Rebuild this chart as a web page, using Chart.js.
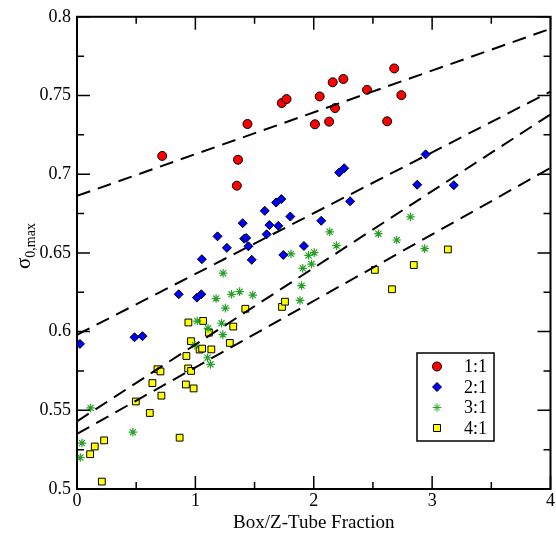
<!DOCTYPE html>
<html>
<head>
<meta charset="utf-8">
<script src="https://cdn.jsdelivr.net/npm/chart.js@4.4.1/dist/chart.umd.min.js"></script>
<style>
  html, body { margin: 0; padding: 0; background: #fff; }
</style>
</head>
<body>
<canvas id="sigmaChart" width="556" height="540"></canvas>
<script>
// box/z-tube fraction (x) vs sigma_0,max (y), one set per ratio
const x11 = [0.72, 1.44, 1.36, 1.35, 1.73, 1.77, 2.05, 2.16, 2.25, 2.45, 2.68, 2.74, 2.18, 2.01, 2.13, 2.62];
const y11 = [0.7116, 0.7319, 0.7092, 0.6927, 0.7452, 0.7477, 0.7494, 0.7584, 0.7605, 0.7536, 0.7672, 0.7502, 0.7420, 0.7317, 0.7334, 0.7336];

const x21 = [1.726, 1.682, 1.586, 1.802, 1.400, 1.625, 1.701, 2.063, 1.602, 1.187, 1.412, 1.429, 1.266, 1.448, 1.055,
             1.476, 1.743, 1.917, 2.307, 2.945, 2.874, 3.183, 2.215, 2.257, 0.859, 1.013, 1.050, 0.025, 0.486, 0.553];
const y21 = [0.6842, 0.6820, 0.6767, 0.6731, 0.6689, 0.6677, 0.6672, 0.6704, 0.6618, 0.6605, 0.6590, 0.6595, 0.6532, 0.6542, 0.6460,
             0.6456, 0.6487, 0.6544, 0.6828, 0.7126, 0.6933, 0.6930, 0.7011, 0.7038, 0.6237, 0.6216, 0.6237, 0.5922, 0.5964, 0.5971];

const x31 = [0.028, 0.042, 0.115, 0.472, 0.996, 1.016, 1.103, 1.128, 1.107, 1.221, 1.232, 1.253, 1.175, 1.305, 1.374,
             1.485, 1.234, 1.808, 1.907, 1.897, 1.884, 1.956, 2.004, 1.981, 2.135, 2.192, 2.546, 2.701, 2.817, 2.937];
const y31 = [0.5200, 0.5292, 0.5515, 0.5361, 0.5914, 0.6067, 0.5834, 0.5792, 0.6021, 0.6053, 0.5981, 0.6149, 0.6210, 0.6237, 0.6254,
             0.6232, 0.6371, 0.6494, 0.6402, 0.6292, 0.6198, 0.6484, 0.6502, 0.6429, 0.6634, 0.6546, 0.6622, 0.6582, 0.6729, 0.6527];

const x41 = [0.210, 0.111, 0.150, 0.229, 0.497, 0.615, 0.637, 0.680, 0.705, 0.713, 0.867, 0.920, 0.985, 0.924, 0.939, 0.964,
             0.941, 1.065, 0.963, 1.036, 1.057, 1.135, 1.114, 1.291, 1.320, 1.422, 1.732, 1.757, 2.516, 2.845, 2.661, 3.133];
const y41 = [0.5047, 0.5221, 0.5270, 0.5309, 0.5556, 0.5483, 0.5673, 0.5761, 0.5747, 0.5593, 0.5326, 0.5664, 0.5639, 0.5845, 0.5766, 0.5750,
             0.6058, 0.6068, 0.5939, 0.5886, 0.5892, 0.5887, 0.5993, 0.5928, 0.6032, 0.6145, 0.6157, 0.6190, 0.6392, 0.6423, 0.6269, 0.6522];

// dashed fit lines, value at x = 0 and x = 4
const fitX = [0, 4];
const fit11 = [0.6862, 0.7924];
const fit21 = [0.598, 0.7525];
const fit31 = [0.543, 0.738];
const fit41 = [0.535, 0.704];

const ratioLabels = ['1:1', '2:1', '3:1', '4:1'];
const xTickLabels = ['0', '1', '2', '3', '4'];
const yTickLabels = ['0.5', '0.55', '0.6', '0.65', '0.7', '0.75', '0.8'];

const serif = '"Liberation Serif", "DejaVu Serif", serif';
const green = 'rgb(40,160,40)';

// plot box edges in canvas pixels
const box = { left: 77, top: 13, right: 552, bottom: 489 };

function pts(xs, ys) {
  return xs.map((x, i) => ({ x: x, y: ys[i] }));
}

function fitSet(ys) {
  return {
    data: pts(fitX, ys),
    showLine: true,
    borderColor: '#000',
    borderWidth: 2,
    borderDash: [14, 8],
    pointRadius: 0,
    fill: false,
    order: 0
  };
}

// frame with inward ticks on all four sides
const frameTicks = {
  id: 'frameTicks',
  afterDraw(chart) {
    const ctx = chart.ctx, a = chart.chartArea;
    const xs = chart.scales.x, ys = chart.scales.y;
    ctx.save();
    ctx.strokeStyle = '#000';
    ctx.lineWidth = 1.5;
    for (let v = 0; v <= 4.001; v += 0.5) {
      const px = xs.getPixelForValue(v);
      const len = Math.abs(v - Math.round(v)) < 1e-6 ? 13 : 7;
      ctx.beginPath();
      ctx.moveTo(px, a.bottom); ctx.lineTo(px, a.bottom - len);
      ctx.moveTo(px, a.top); ctx.lineTo(px, a.top + len);
      ctx.stroke();
    }
    for (let i = 0; i <= 12; i++) {
      const py = ys.getPixelForValue(0.5 + i * 0.025);
      const len = i % 2 === 0 ? 13 : 7;
      ctx.beginPath();
      ctx.moveTo(a.left, py); ctx.lineTo(a.left + len, py);
      ctx.moveTo(a.right, py); ctx.lineTo(a.right - len, py);
      ctx.stroke();
    }
    ctx.lineWidth = 2;
    ctx.strokeRect(a.left, a.top, a.right - a.left, a.bottom - a.top);
    ctx.restore();
  }
};

// axis titles, y title with subscript
const axisTitles = {
  id: 'axisTitles',
  afterDraw(chart) {
    const ctx = chart.ctx, a = chart.chartArea;
    ctx.save();
    ctx.fillStyle = '#000';
    ctx.font = '19px ' + serif;
    ctx.textAlign = 'center';
    ctx.textBaseline = 'middle';
    ctx.fillText('Box/Z-Tube Fraction', (a.left + a.right) / 2, 523);

    ctx.translate(24, 246);
    ctx.rotate(-Math.PI / 2);
    ctx.textAlign = 'left';
    ctx.textBaseline = 'alphabetic';
    ctx.font = '21px ' + serif;
    const w1 = ctx.measureText('σ').width;
    ctx.font = '14px ' + serif;
    const w2 = ctx.measureText('0,max').width;
    const x0 = -(w1 + w2) / 2;
    ctx.font = '21px ' + serif;
    ctx.fillText('σ', x0, 6);
    ctx.font = '14px ' + serif;
    ctx.fillText('0,max', x0 + w1, 11);
    ctx.restore();
  }
};

// boxed legend inside the plot area
const boxLegend = {
  id: 'boxLegend',
  afterDraw(chart) {
    const ctx = chart.ctx;
    const bx = 417, by = 353, bw = 77, bh = 88;
    ctx.save();
    ctx.fillStyle = '#fff';
    ctx.fillRect(bx, by, bw, bh);
    ctx.strokeStyle = '#000';
    ctx.lineWidth = 1.5;
    ctx.strokeRect(bx, by, bw, bh);
    const scatterSets = chart.data.datasets.filter(d => d.label);
    scatterSets.forEach((d, i) => {
      const cy = by + 13.5 + i * 20.5, cx = 437;
      ctx.fillStyle = d.backgroundColor;
      ctx.strokeStyle = d.borderColor;
      ctx.lineWidth = 1;
      ctx.beginPath();
      if (d.pointStyle === 'circle') {
        ctx.arc(cx, cy, 4.5, 0, Math.PI * 2);
        ctx.fill(); ctx.stroke();
      } else if (d.pointStyle === 'rectRot') {
        ctx.moveTo(cx - 4.5, cy); ctx.lineTo(cx, cy - 4.5);
        ctx.lineTo(cx + 4.5, cy); ctx.lineTo(cx, cy + 4.5);
        ctx.closePath();
        ctx.fill(); ctx.stroke();
      } else if (d.pointStyle === 'rect') {
        ctx.rect(cx - 3.5, cy - 3.5, 7, 7);
        ctx.fill(); ctx.stroke();
      } else {
        for (let k = 0; k < 4; k++) {
          const ang = k * Math.PI / 4;
          ctx.moveTo(cx - Math.cos(ang) * 4.3, cy - Math.sin(ang) * 4.3);
          ctx.lineTo(cx + Math.cos(ang) * 4.3, cy + Math.sin(ang) * 4.3);
        }
        ctx.stroke();
      }
      ctx.fillStyle = '#000';
      ctx.font = '18px ' + serif;
      ctx.textAlign = 'right';
      ctx.textBaseline = 'middle';
      ctx.fillText(d.label, 487, cy + 1);
    });
    ctx.restore();
  }
};

const ctx = document.getElementById('sigmaChart');
const sigmaChart = new Chart(ctx, {
  type: 'scatter',
  data: {
    datasets: [
      fitSet(fit11), fitSet(fit21), fitSet(fit31), fitSet(fit41),
      {
        label: ratioLabels[0], data: pts(x11, y11), pointStyle: 'circle', pointRadius: 4.5,
        backgroundColor: '#ff0000', borderColor: '#000', borderWidth: 1, order: 1
      },
      {
        label: ratioLabels[1], data: pts(x21, y21), pointStyle: 'rectRot', pointRadius: 4.5,
        backgroundColor: '#0000ff', borderColor: '#000', borderWidth: 1, order: 1
      },
      {
        label: ratioLabels[2], data: pts(x31, y31), pointStyle: 'star', pointRadius: 4.3,
        backgroundColor: green, borderColor: green, borderWidth: 1.2, order: 1
      },
      {
        label: ratioLabels[3], data: pts(x41, y41), pointStyle: 'rect', pointRadius: 4.8,
        backgroundColor: '#ffff00', borderColor: '#000', borderWidth: 1, order: 1
      }
    ]
  },
  options: {
    responsive: false,
    animation: false,
    layout: {
      autoPadding: false,
      padding: { top: box.top, right: 556 - box.right, left: 0, bottom: 0 }
    },
    plugins: { legend: { display: false }, tooltip: { enabled: false } },
    scales: {
      x: {
        type: 'linear', min: 0, max: 4,
        grid: { display: false, drawTicks: false },
        border: { display: false },
        afterFit: s => { s.height = 540 - box.bottom; },
        ticks: {
          stepSize: 1, padding: 1, color: '#000',
          font: { family: serif, size: 18 },
          callback: (v, i) => xTickLabels[i]
        }
      },
      y: {
        type: 'linear', min: 0.5, max: 0.8,
        grid: { display: false, drawTicks: false },
        border: { display: false },
        afterFit: s => { s.width = box.left; },
        ticks: {
          stepSize: 0.05, padding: 6, color: '#000',
          font: { family: serif, size: 18 },
          callback: (v, i) => yTickLabels[i]
        }
      }
    }
  },
  plugins: [frameTicks, axisTitles, boxLegend]
});
</script>
</body>
</html>
